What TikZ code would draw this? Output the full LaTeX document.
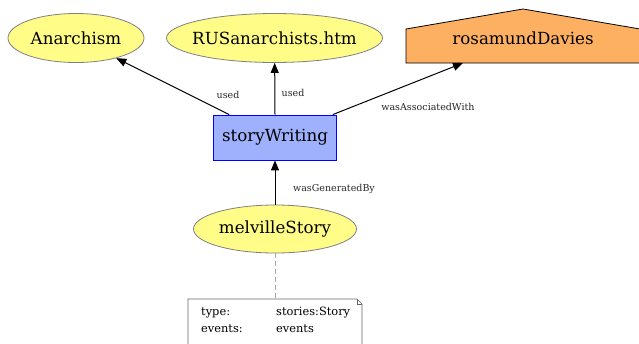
\documentclass[tikz,border=0pt]{standalone}
\usepackage{fontspec}
\setmainfont{DejaVu Serif}
\usetikzlibrary{arrows.meta,shapes.geometric}
\definecolor{entfill}{HTML}{FFFC87}
\definecolor{actfill}{HTML}{9FB1FC}
\definecolor{agfill}{HTML}{FDB062}
\begin{document}
\begin{tikzpicture}[x=1pt,y=-1pt,
  entity/.style={ellipse, draw=gray, fill=entfill, line width=0.8pt, inner sep=0pt, font=\fontsize{16.7}{20}\selectfont},
  activity/.style={rectangle, draw=blue, fill=actfill, line width=0.8pt, inner sep=0pt, minimum width=123pt, minimum height=45pt, font=\fontsize{16.7}{20}\selectfont},
  edge/.style={draw=black, line width=1pt, -{Triangle[length=10pt,width=8pt]}},
  elabel/.style={font=\fontsize{9.5}{11}\selectfont, text=black!85},
  notetext/.style={font=\fontsize{11.4}{13}\selectfont, anchor=west, inner sep=0pt}
]
\useasboundingbox (0,0) rectangle (639,343);
% nodes
\node[entity, minimum width=136pt, minimum height=49pt] (anar) at (76,38) {\makebox[0pt]{Anarchism}};
\node[entity, minimum width=216pt, minimum height=49pt] (rus) at (274.5,38) {\makebox[0pt]{RUSanarchists.htm}};
\draw[fill=agfill, draw=black, line width=0.8pt] (406,63) -- (406,29) -- (523,9) -- (640,29) -- (640,63) -- cycle;
\node[font=\fontsize{16.7}{20}\selectfont] (rosa) at (523,38.5) {rosamundDavies};
\coordinate (rosatip) at (463,63);
\node[activity] (sw) at (275,137.5) {storyWriting};
\node[entity, minimum width=163pt, minimum height=48pt] (mel) at (275,229) {\makebox[0pt]{melvilleStory}};
% note
\coordinate (notetop) at (275,299);
\draw[draw=gray!80!black, fill=white, line width=0.7pt] (188,350) -- (188,299) -- (357,299) -- (362,304) -- (362,350);
\draw[draw=gray!80!black, line width=0.7pt] (357,299) -- (357,304) -- (362,304);
\node[notetext] (t1) at (201,313) {type:};
\node[notetext] (v1) at (276,313) {stories:Story};
\node[notetext] (t2) at (201,329) {events:};
\node[notetext] (v2) at (276,329) {events};
\draw[draw=gray!70, line width=1pt, dash pattern=on 5pt off 3pt] (mel) -- (notetop);
% edges
\draw[edge] (sw) -- (anar);
\draw[edge] (sw.north) -- (rus);
\draw[edge] (sw) -- (rosatip);
\draw[edge] (mel) -- (sw);
% labels
\node[elabel] (l1) at (228,95) {used};
\node[elabel] (l2) at (293,93) {used};
\node[elabel] (l3) at (428,107) {wasAssociatedWith};
\node[elabel] (l4) at (334,189) {wasGeneratedBy};
\end{tikzpicture}
\end{document}
